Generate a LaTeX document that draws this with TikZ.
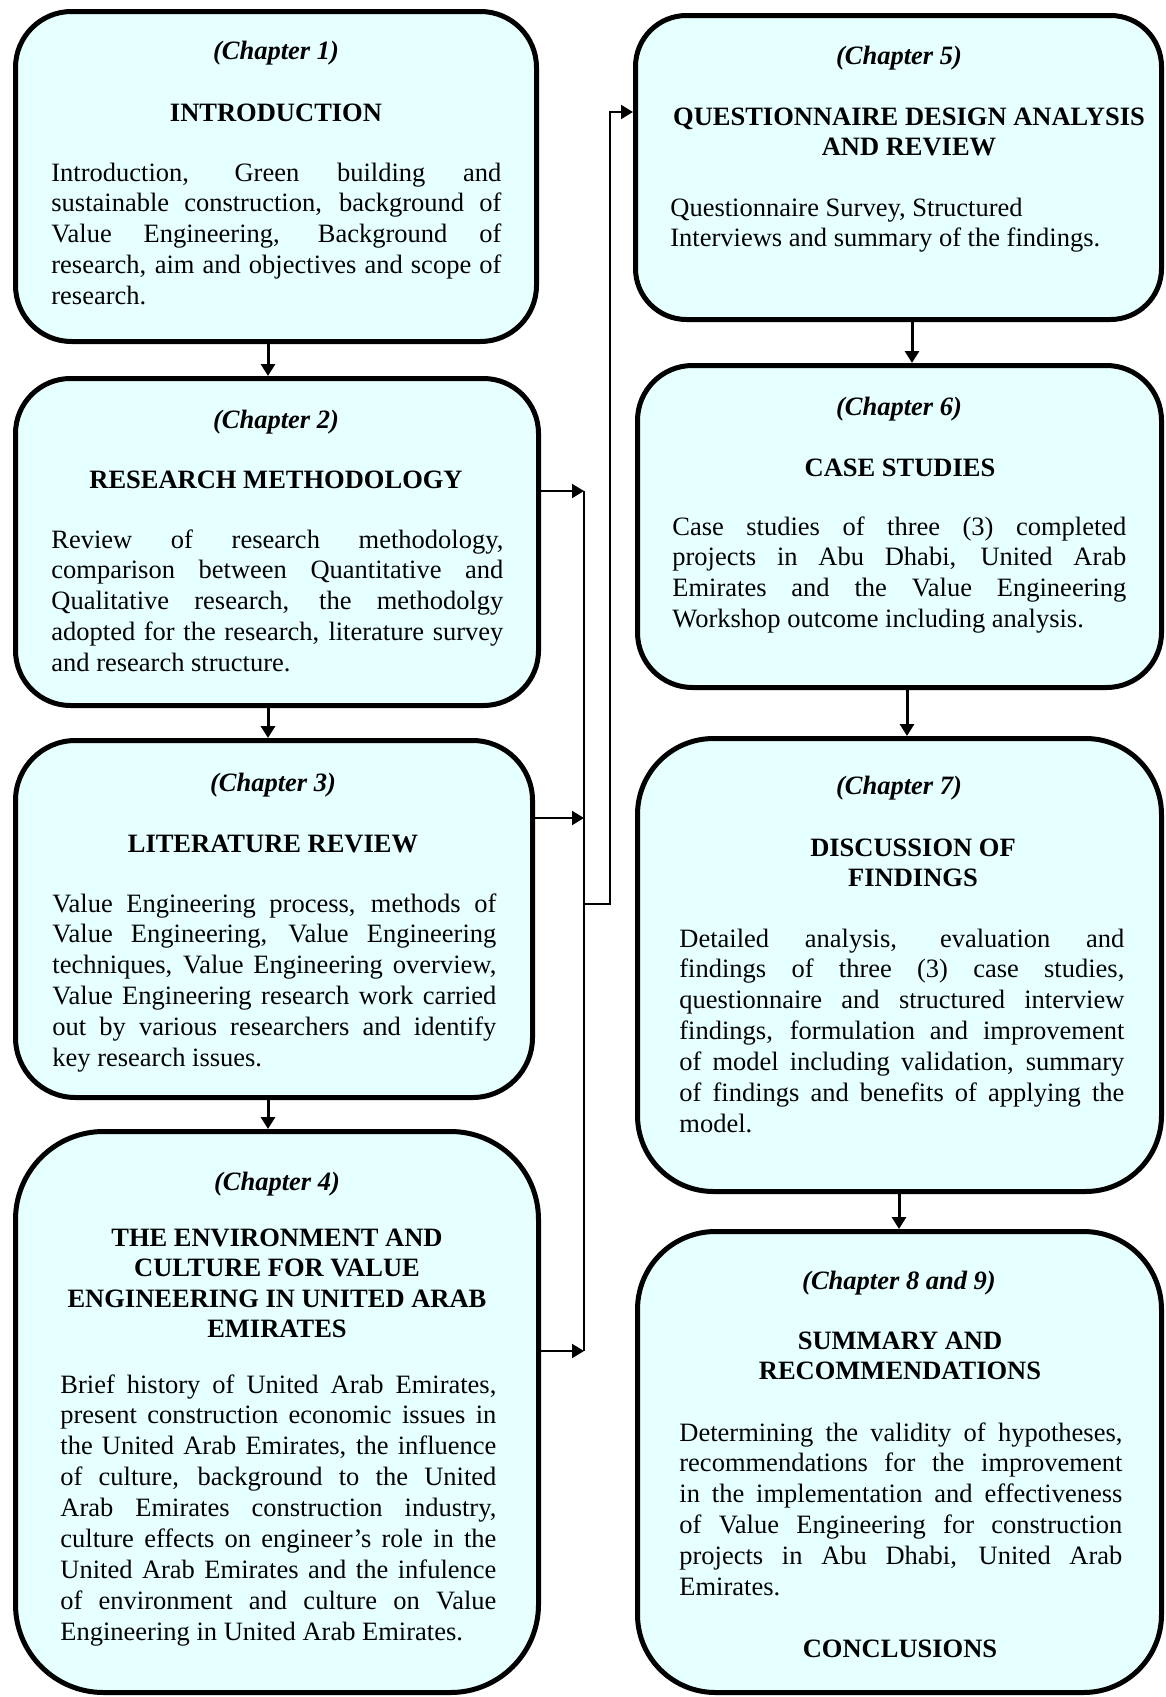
\documentclass[tikz,border=0pt]{standalone}
\usepackage{fontspec}
\setmainfont{Liberation Serif}
\usetikzlibrary{arrows.meta,fit}

\definecolor{boxfill}{RGB}{230,255,255}

% one justified line of a paragraph
\newcommand\jl[1]{\makebox[\linewidth][s]{#1}\par}
% paragraph block whose baseline is its first line
\newcommand\para[2]{\parbox[t]{#1}{#2}}
% centred heading block
\newcommand\ctr[1]{\parbox[t]{290pt}{\centering #1}}

\tikzset{
  chbox/.style={draw=black, line width=2.5pt, fill=boxfill, inner sep=0pt},
  body/.style={inner sep=0pt, anchor=base west, font=\fontsize{13.25}{15.45}\selectfont},
  chap/.style={inner sep=0pt, anchor=base, font=\fontsize{13.25}{15.45}\selectfont\bfseries\itshape},
  ttl/.style={inner sep=0pt, anchor=base, font=\fontsize{13.25}{15.3}\selectfont\bfseries},
  flow/.style={line width=1.5pt, -{Triangle[length=6pt,width=7pt]}},
  bus/.style={line width=1pt},
  busarrow/.style={line width=1pt, -{Triangle[length=6pt,width=7pt]}},
}

\begin{document}
\begin{tikzpicture}[x=0.5pt, y=-0.5pt]
\useasboundingbox (0,0) rectangle (1166,1697);

% ---------- chapter boxes ----------
\node[chbox, rounded corners=28pt,   fit={(15.5,11.5) (536.5,341.5)}]   (b1) {};
\node[chbox, rounded corners=27.5pt, fit={(15.5,378.5) (538.5,705.5)}]  (b2) {};
\node[chbox, rounded corners=30pt,   fit={(15.5,740.5) (532.5,1097.5)}] (b3) {};
\node[chbox, rounded corners=44pt,   fit={(15.5,1131.5) (538.5,1692.5)}] (b4) {};
\node[chbox, rounded corners=25.5pt, fit={(635.5,15.5) (1161.5,319.5)}] (b5) {};
\node[chbox, rounded corners=27.5pt, fit={(637.5,365.5) (1161.5,687.5)}] (b6) {};
\node[chbox, rounded corners=38pt,   fit={(637.5,738.5) (1161.5,1191.5)}] (b7) {};
\node[chbox, rounded corners=39pt,   fit={(637.5,1231.5) (1161.5,1692.5)}] (b8) {};

% ---------- chapter 1 ----------
\node[chap] (c1) at (276,59) {(Chapter 1)};
\node[ttl]  (h1) at (276,121) {INTRODUCTION};
\node[body] (p1) at (51,181) {\para{225pt}{%
\jl{Introduction, Green building and}
\jl{sustainable construction, background of}
\jl{Value Engineering, Background of}
\jl{research, aim and objectives and scope of}
research.}};

% ---------- chapter 2 ----------
\node[chap] (c2) at (276,428) {(Chapter 2)};
\node[ttl]  (h2) at (276,488) {RESEARCH METHODOLOGY};
\node[body] (p2) at (51,548) {\para{226pt}{%
\jl{Review of research methodology,}
\jl{comparison between Quantitative and}
\jl{Qualitative research, the methodolgy}
\jl{adopted for the research, literature survey}
and research structure.}};

% ---------- chapter 3 ----------
\node[chap] (c3) at (273,791) {(Chapter 3)};
\node[ttl]  (h3) at (273,852) {LITERATURE REVIEW};
\node[body] (p3) at (52,912) {\para{222pt}{%
\jl{Value Engineering process, methods of}
\jl{Value Engineering, Value Engineering}
\jl{techniques, Value Engineering overview,}
\jl{Value Engineering research work carried}
\jl{out by various researchers and identify}
key research issues.}};

% ---------- chapter 4 ----------
\node[chap] (c4) at (277,1190) {(Chapter 4)};
\node[ttl]  (h4) at (277,1246) {\ctr{THE ENVIRONMENT AND\\CULTURE FOR VALUE\\ENGINEERING IN UNITED ARAB\\EMIRATES}};
\node[body] (p4) at (60,1393) {\para{218pt}{%
\jl{Brief history of United Arab Emirates,}
\jl{present construction economic issues in}
\jl{the United Arab Emirates, the influence}
\jl{of culture, background to the United}
\jl{Arab Emirates construction industry,}
\jl{culture effects on engineer’s role in the}
\jl{United Arab Emirates and the infulence}
\jl{of environment and culture on Value}
Engineering in United Arab Emirates.}};

% ---------- chapter 5 ----------
\node[chap] (c5) at (899,64) {(Chapter 5)};
\node[ttl]  (h5) at (909,125) {\ctr{QUESTIONNAIRE DESIGN ANALYSIS\\AND REVIEW}};
\node[body] (p5) at (670,216) {\para{240pt}{%
Questionnaire Survey, Structured\par
Interviews and summary of the findings.}};

% ---------- chapter 6 ----------
\node[chap] (c6) at (899,415) {(Chapter 6)};
\node[ttl]  (h6) at (900,476) {CASE STUDIES};
\node[body] (p6) at (672,535) {\para{227pt}{%
\jl{Case studies of three (3) completed}
\jl{projects in Abu Dhabi, United Arab}
\jl{Emirates and the Value Engineering}
Workshop outcome including analysis.}};

% ---------- chapter 7 ----------
\node[chap] (c7) at (899,794) {(Chapter 7)};
\node[ttl]  (h7) at (913,856) {\ctr{DISCUSSION OF\\FINDINGS}};
\node[body] (p7) at (679,947) {\para{222.5pt}{%
\jl{Detailed analysis, evaluation and}
\jl{findings of three (3) case studies,}
\jl{questionnaire and structured interview}
\jl{findings, formulation and improvement}
\jl{of model including validation, summary}
\jl{of findings and benefits of applying the}
model.}};

% ---------- chapters 8 and 9 ----------
\node[chap] (c8) at (899,1289) {(Chapter 8 and 9)};
\node[ttl]  (h8) at (900,1349) {\ctr{SUMMARY AND\\RECOMMENDATIONS}};
\node[body] (p8) at (679,1441) {\para{221.5pt}{%
\jl{Determining the validity of hypotheses,}
\jl{recommendations for the improvement}
\jl{in the implementation and effectiveness}
\jl{of Value Engineering for construction}
\jl{projects in Abu Dhabi, United Arab}
Emirates.}};
\node[ttl]  (k8) at (900,1657) {CONCLUSIONS};

% ---------- vertical flow between chapters ----------
\coordinate (xl) at (268,0);
\coordinate (x56) at (912,0);
\coordinate (x67) at (907,0);
\coordinate (x78) at (899,0);
\draw[flow] (xl |- b1.south) -- (xl |- b2.north);
\draw[flow] (xl |- b2.south) -- (xl |- b3.north);
\draw[flow] (xl |- b3.south) -- (xl |- b4.north);
\draw[flow] (x56 |- b5.south) -- (x56 |- b6.north);
\draw[flow] (x67 |- b6.south) -- (x67 |- b7.north);
\draw[flow] (x78 |- b7.south) -- (x78 |- b8.north);

% ---------- collecting bus from chapters 2-4 into chapter 5 ----------
\coordinate (j2) at (584,491);
\coordinate (j3) at (584,818);
\coordinate (j4) at (584,1351);
\coordinate (jb) at (584,904);
\coordinate (jr) at (610,904);
\coordinate (jt) at (610,112);
\draw[busarrow] (b2.east |- j2) -- (j2);
\draw[busarrow] (b3.east |- j3) -- (j3);
\draw[busarrow] (b4.east |- j4) -- (j4);
\draw[bus] (j2) -- (j4);
\draw[busarrow] (jb) -- (jr) -- (jt) -- (b5.west |- jt);
\end{tikzpicture}
\end{document}
